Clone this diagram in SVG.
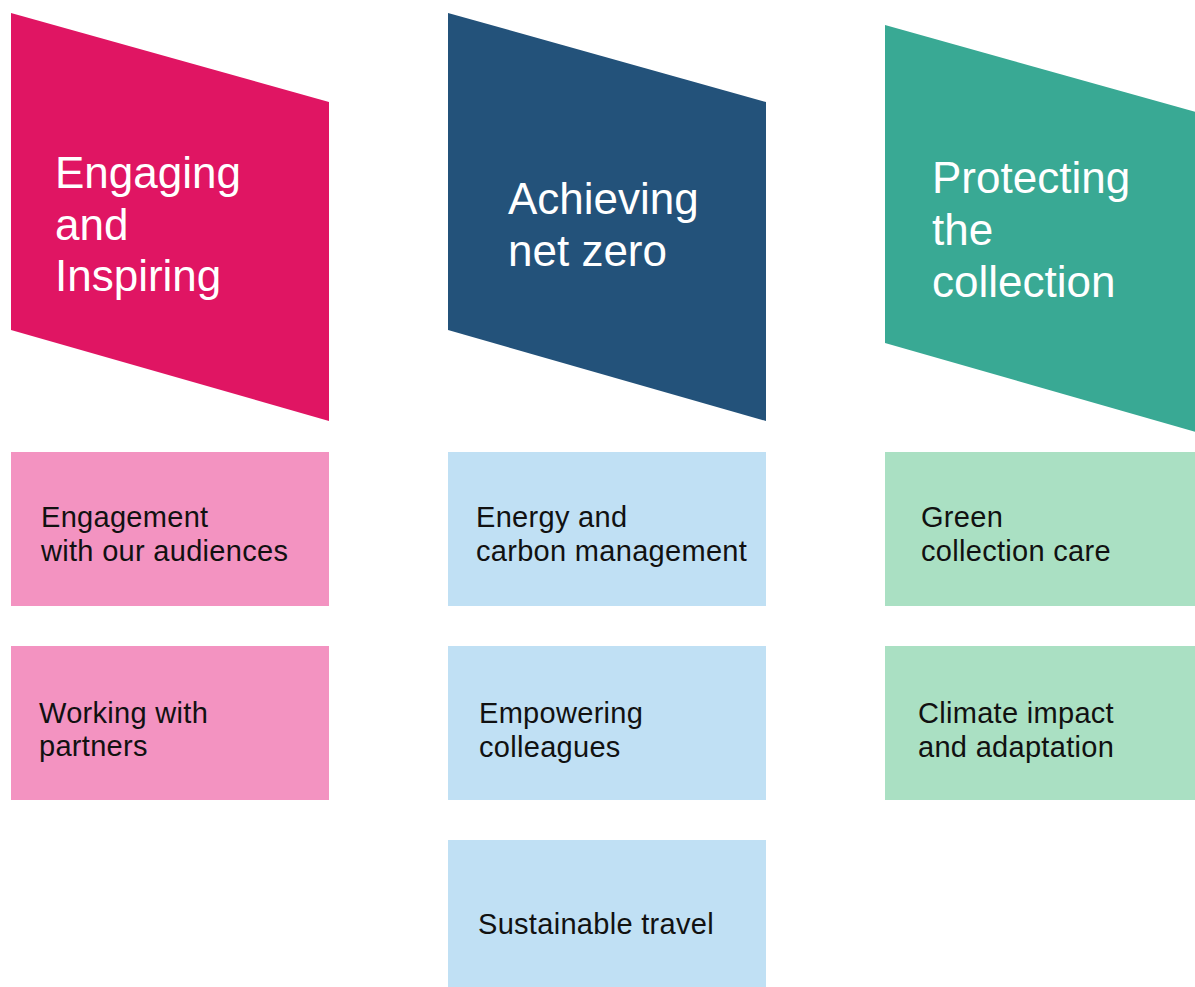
<svg xmlns="http://www.w3.org/2000/svg" width="1195" height="987" viewBox="0 0 1195 987">
<style>
.head{font-family:"Liberation Sans",Arial,sans-serif;font-size:44px;fill:#ffffff}
.item{font-family:"Liberation Sans",Arial,sans-serif;font-size:29px;fill:#111111;letter-spacing:0.3px}
.pink{fill:#E01563}.navy{fill:#23527A}.teal{fill:#39A994}
.lpink{fill:#F393C1}.lblue{fill:#C0E0F4}.lgreen{fill:#AAE0C3}
</style>
<rect width="1195" height="987" fill="#ffffff"/>
<g id="connectors"/>
<g id="engaging">
<polygon class="pink" points="11,13 329,102 329,421 11,330"/>
<text class="head"><tspan x="55" y="188">Engaging</tspan><tspan x="55" y="240">and</tspan><tspan x="55" y="291">Inspiring</tspan></text>
</g>
<g id="netzero">
<polygon class="navy" points="448,13 766,102 766,421 448,330"/>
<text class="head"><tspan x="508" y="214">Achieving</tspan><tspan x="508" y="266">net zero</tspan></text>
</g>
<g id="protecting">
<polygon class="teal" points="885,25 1203,114 1203,434 885,343"/>
<text class="head"><tspan x="932" y="193">Protecting</tspan><tspan x="932" y="245">the</tspan><tspan x="932" y="297">collection</tspan></text>
</g>
<g id="engagement">
<rect class="lpink" x="11" y="452" width="318" height="154"/>
<text class="item"><tspan x="41" y="527">Engagement</tspan><tspan x="41" y="561">with our audiences</tspan></text>
</g>
<g id="partners">
<rect class="lpink" x="11" y="646" width="318" height="154"/>
<text class="item"><tspan x="39" y="723">Working with</tspan><tspan x="39" y="756">partners</tspan></text>
</g>
<g id="energy">
<rect class="lblue" x="448" y="452" width="318" height="154"/>
<text class="item"><tspan x="476" y="527">Energy and</tspan><tspan x="476" y="561">carbon management</tspan></text>
</g>
<g id="empowering">
<rect class="lblue" x="448" y="646" width="318" height="154"/>
<text class="item"><tspan x="479" y="723">Empowering</tspan><tspan x="479" y="757">colleagues</tspan></text>
</g>
<g id="travel">
<rect class="lblue" x="448" y="840" width="318" height="147"/>
<text class="item"><tspan x="478" y="934">Sustainable travel</tspan></text>
</g>
<g id="greencare">
<rect class="lgreen" x="885" y="452" width="310" height="154"/>
<text class="item"><tspan x="921" y="527">Green</tspan><tspan x="921" y="561">collection care</tspan></text>
</g>
<g id="climate">
<rect class="lgreen" x="885" y="646" width="310" height="154"/>
<text class="item"><tspan x="918" y="723">Climate impact</tspan><tspan x="918" y="757">and adaptation</tspan></text>
</g>
</svg>
